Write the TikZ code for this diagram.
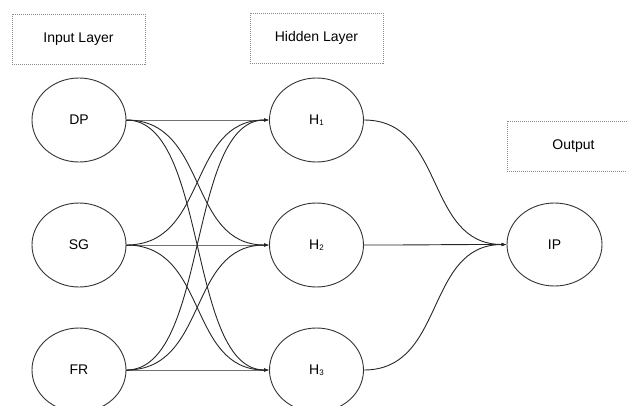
\documentclass[tikz,border=0pt]{standalone}
\usepackage{fontspec}
\setmainfont{Liberation Sans}
\usetikzlibrary{shapes.geometric,arrows.meta}
\newcommand{\hsub}[1]{\raisebox{-0.5pt}{\fontsize{8}{9}\selectfont #1}}
\begin{document}
\begin{tikzpicture}[x=1pt,y=-1pt,
  neuron/.style={draw=black!80,line width=0.9pt,ellipse,minimum width=94pt,minimum height=84pt,inner sep=0pt,font=\fontsize{14}{16}\selectfont},
  label box/.style={draw=black!45,line width=0.7pt,dash pattern=on 1pt off 1pt,minimum width=133pt,minimum height=50pt,inner sep=0pt,font=\fontsize{14}{16}\selectfont},
  conn/.style={draw=black!85,line width=0.9pt,-{Latex[length=5pt,width=3.5pt]}}
]
\useasboundingbox (0,0) rectangle (627,405);
\clip (0,0) rectangle (627,405);
\node[label box] (lin) at (78.5,39) {Input Layer};
\node[label box] (lhid) at (316.5,38) {Hidden Layer};
\node[label box] (lout) at (573.5,146) {Output};

\node[neuron] (dp) at (79,120) {DP};
\node[neuron] (sg) at (79,245) {SG};
\node[neuron] (fr) at (79,370) {FR};
\node[neuron] (h1) at (316.5,120) {H\hsub{1}};
\node[neuron] (h2) at (316.5,245) {H\hsub{2}};
\node[neuron] (h3) at (316.5,370) {H\hsub{3}};
\node[neuron,minimum width=95pt,minimum height=83pt] (ip) at (554.5,244.5) {IP};

\foreach \i in {dp,sg,fr}{
  \foreach \j in {h1,h2,h3}{
    \path[conn] (\i.east) .. controls ([xshift=82pt]\i.east) and ([xshift=-82pt]\j.west) .. (\j.west);
  }
}
\foreach \j in {h1,h2,h3}{
  \path[conn] (\j.east) .. controls ([xshift=82pt]\j.east) and ([xshift=-82pt]ip.west) .. (ip.west);
}
\end{tikzpicture}
\end{document}
